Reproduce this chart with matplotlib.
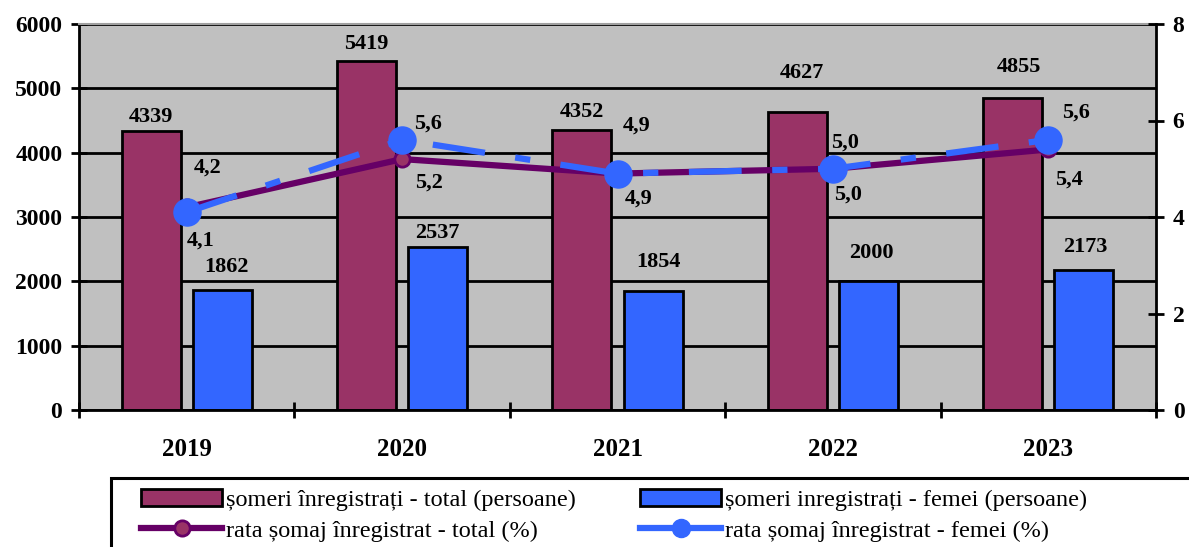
import matplotlib
matplotlib.use("Agg")
import matplotlib.pyplot as plt
from matplotlib.patches import Rectangle
from matplotlib.lines import Line2D
import numpy as np

# ---- data ----
years = ["2019", "2020", "2021", "2022", "2023"]
someri_total = [4339, 5419, 4352, 4627, 4855]
someri_femei = [1862, 2537, 1854, 2000, 2173]
rata_total = [4.2, 5.2, 4.9, 5.0, 5.4]
rata_femei = [4.1, 5.6, 4.9, 5.0, 5.6]
rata_total_labels = ["4,2", "5,2", "4,9", "5,0", "5,4"]
rata_femei_labels = ["4,1", "5,6", "4,9", "5,0", "5,6"]

legend_labels = [
    "șomeri înregistrați - total (persoane)",
    "rata șomaj înregistrat - total (%)",
    "șomeri inregistrați - femei (persoane)",
    "rata șomaj înregistrat - femei (%)",
]

# label offsets (pixels, x right / y up) - layout only
off_bar_total = [(0, 14), (0, 17), (0, 18), (5, 39), (6, 31)]
off_bar_femei = [(4, 23), (0, 14), (5, 29), (3, 28), (1, 23)]
off_rt = [(21, 40), (27, -23), (21, -25), (15, -26), (21, -30)]
off_rf = [(14, -28), (26, 16), (19, 48), (12, 26), (28, 27)]

C_MAROON = "#993366"
C_BLUE = "#3366FF"
C_PURPLE = "#660066"
C_BG = "#C0C0C0"

plt.rcParams["font.family"] = ["Liberation Serif", "DejaVu Serif"]
plt.rcParams["lines.scale_dashes"] = False

W, H = 1189, 547
fig = plt.figure(figsize=(W / 100, H / 100), dpi=100)
ax = fig.add_axes([79 / W, 1 - 410 / H, (1156 - 79) / W, (410 - 24) / H])
ax.set_facecolor(C_BG)

x = np.arange(len(years))
bw = 0.274
off = 0.165

ax.set_xlim(-0.5, len(years) - 0.5)
ax.set_ylim(0, 6000)
ax.set_yticks(np.arange(0, 6001, 1000))
ax.yaxis.grid(True, color="black", lw=2, zorder=0)
ax.set_axisbelow(True)

b1 = ax.bar(x - off, someri_total, bw, color=C_MAROON, edgecolor="black", lw=2, zorder=2)
b2 = ax.bar(x + off, someri_femei, bw, color=C_BLUE, edgecolor="black", lw=2, zorder=2)

for xi, v, o in zip(x - off, someri_total, off_bar_total):
    ax.annotate(str(v), (xi, v), xytext=o, textcoords="offset pixels",
                ha="center", va="center", fontsize=16, fontweight="bold", zorder=6)
for xi, v, o in zip(x + off, someri_femei, off_bar_femei):
    ax.annotate(str(v), (xi, v), xytext=o, textcoords="offset pixels",
                ha="center", va="center", fontsize=16, fontweight="bold", zorder=6)

# x ticks at category boundaries, labels at centers
ax.set_xticks(np.arange(-0.5, len(years) + 0.5, 1))
ax.set_xticklabels([])
ax.set_xticks(x, minor=True)
ax.set_xticklabels(years, minor=True, fontsize=18, fontweight="bold")
ax.tick_params(axis="x", which="major", direction="inout", length=12, width=2)
ax.tick_params(axis="x", which="minor", length=0, pad=20)
ax.tick_params(axis="y", direction="inout", length=12, width=2, labelsize=17, pad=6)
for t in ax.get_yticklabels():
    t.set_fontweight("bold")

for s in ["left", "bottom"]:
    ax.spines[s].set_linewidth(2)
ax.spines["top"].set_color("#A0A0A0")
ax.spines["top"].set_linewidth(1.5)
ax.spines["right"].set_visible(False)

ax2 = ax.twinx()
ax2.set_ylim(0, 8)
ax2.set_yticks([0, 2, 4, 6, 8])
ax2.tick_params(axis="y", direction="inout", length=12, width=2, labelsize=17, pad=6)
for t in ax2.get_yticklabels():
    t.set_fontweight("bold")
ax2.spines["right"].set_linewidth(2)
for s in ["left", "top", "bottom"]:
    ax2.spines[s].set_visible(False)

l1, = ax2.plot(x, rata_total, color=C_PURPLE, lw=4.5, marker="o", markersize=11,
               markerfacecolor=C_MAROON, markeredgecolor=C_PURPLE, markeredgewidth=2,
               zorder=3, solid_capstyle="butt")
l2, = ax2.plot(x, rata_femei, color=C_BLUE, lw=4.5, marker="o", markersize=19.5,
               markerfacecolor=C_BLUE, markeredgecolor=C_BLUE,
               dashes=(38, 22, 11, 22), dash_capstyle="butt", zorder=4)

for xi, v, s, o in zip(x, rata_total, rata_total_labels, off_rt):
    ax2.annotate(s, (xi, v), xytext=o, textcoords="offset pixels",
                 ha="center", va="center", fontsize=16, fontweight="bold", zorder=6)
for xi, v, s, o in zip(x, rata_femei, rata_femei_labels, off_rf):
    ax2.annotate(s, (xi, v), xytext=o, textcoords="offset pixels",
                 ha="center", va="center", fontsize=16, fontweight="bold", zorder=6)

# legend frame (extends past figure edge)
fig.patches.append(Rectangle((111 / W, -0.2), 1.5, (547 - 478) / H + 0.2,
                             transform=fig.transFigure, fill=False, ec="black", lw=2.2))

h_lt = Line2D([], [], color=C_PURPLE, lw=4.5, marker="o", markersize=11,
              markerfacecolor=C_MAROON, markeredgecolor=C_PURPLE, markeredgewidth=2)
h_lf = Line2D([], [], color=C_BLUE, lw=4.5, marker="o", markersize=13,
              markerfacecolor=C_BLUE, markeredgecolor=C_BLUE)

leg_kw = dict(loc="upper left", frameon=False, fontsize=17.5, handlelength=3.35,
              handletextpad=0.16, borderpad=0, borderaxespad=0, labelspacing=0.36)
fig.legend([b1, h_lt], legend_labels[:2], bbox_to_anchor=(141 / W, 1 - 489 / H), **leg_kw)
fig.legend([b2, h_lf], legend_labels[2:], bbox_to_anchor=(640 / W, 1 - 489 / H), **leg_kw)

fig.savefig("out.png", dpi=100)
